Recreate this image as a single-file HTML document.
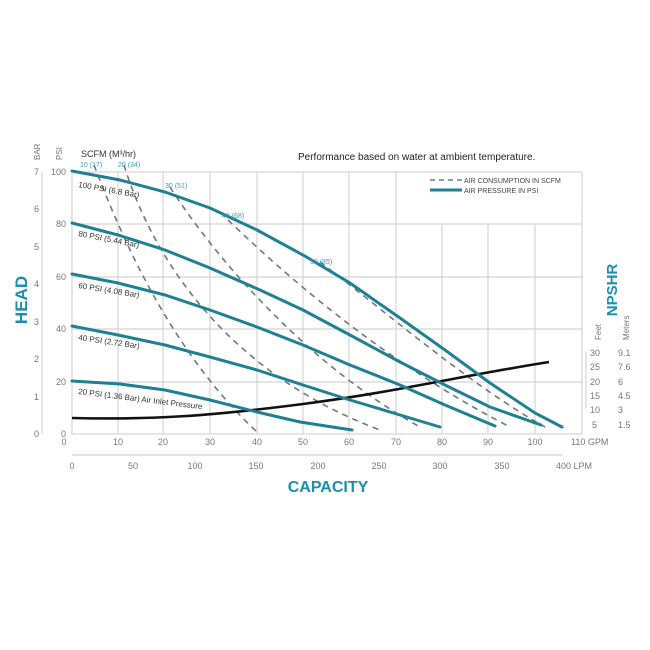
<!DOCTYPE html>
<html><head><meta charset="utf-8"><style>
html,body{margin:0;padding:0;background:#fff;width:650px;height:650px;overflow:hidden}
svg{display:block;font-family:"Liberation Sans",sans-serif}
</style></head><body>
<svg width="650" height="650" viewBox="0 0 650 650">
<g stroke="#d4d4d4" stroke-width="1.2" fill="none">
<rect x="72" y="172" width="510" height="262"/>
<line x1="72" y1="224" x2="582" y2="224"/><line x1="72" y1="277" x2="582" y2="277"/>
<line x1="72" y1="329" x2="582" y2="329"/><line x1="72" y1="382" x2="582" y2="382"/>
<line x1="118" y1="172" x2="118" y2="434"/><line x1="163" y1="172" x2="163" y2="434"/>
<line x1="210" y1="172" x2="210" y2="434"/><line x1="257" y1="172" x2="257" y2="434"/>
<line x1="303" y1="172" x2="303" y2="434"/><line x1="349" y1="172" x2="349" y2="434"/>
<line x1="396" y1="172" x2="396" y2="434"/><line x1="442" y1="225" x2="442" y2="434"/>
<line x1="488" y1="225" x2="488" y2="434"/><line x1="535" y1="225" x2="535" y2="434"/>
<line x1="72" y1="455" x2="563" y2="455"/>
<line x1="42" y1="172" x2="42" y2="434"/>
<line x1="586" y1="352" x2="586" y2="408"/>
</g>
<rect x="424" y="172" width="158" height="40" fill="#fff"/>
<path d="M424 172H582V212" stroke="#d4d4d4" fill="none"/>
<!-- dashed -->
<g stroke="#707880" stroke-width="1.6" stroke-dasharray="6,5" fill="none">
<path d="M94 165 C130 260 180 360 258 433"/>
<path d="M124 165 C150 250 220 370 380 430"/>
<path d="M170 187 C210 250 300 360 420 427"/>
<path d="M228 220 C280 270 380 360 510 427"/>
<path d="M320 262 C390 315 470 385 545 427"/>
</g>
<!-- NPSHR -->
<path d="M72 418 C150 420 210 416 303 404 S460 376 549 362" stroke="#111" stroke-width="2.6" fill="none"/>
<!-- pressure curves -->
<g stroke="#1f7f95" stroke-width="3" fill="none" stroke-linecap="round">
<polyline points="72,171 120,180 165,192 210,208 257,230 303,255 350,283 400,318 445,350 490,383 535,413 562,427"/>
<polyline points="72,223 118,235 165,250 210,268 260,290 303,310 350,335 400,362 445,385 490,407 541,425"/>
<polyline points="72,274 118,283 165,295 210,310 257,327 303,345 350,365 400,385 445,405 495,426"/>
<polyline points="72,326 118,335 165,345 210,357 257,370 303,385 350,400 400,415 440,427"/>
<polyline points="72,381 120,384 165,390 210,400 257,412 300,422 352,430"/>
</g>
<!-- curve labels -->
<g font-size="8" fill="#333">
<text x="78" y="187" transform="rotate(10 78 187)">100 PSI (6.8 Bar)</text>
<text x="78" y="236" transform="rotate(11 78 236)">80 PSI (5.44 Bar)</text>
<text x="78" y="288" transform="rotate(9 78 288)">60 PSI (4.08 Bar)</text>
<text x="78" y="340" transform="rotate(8 78 340)">40 PSI (2.72 Bar)</text>
<text x="78" y="394" transform="rotate(7 78 394)">20 PSI (1.36 Bar) Air Inlet Pressure</text>
</g>
<g font-size="7" fill="#3a9ab5">
<text x="80" y="167">10 (17)</text><text x="118" y="167">20 (34)</text>
<text x="165" y="188">30 (51)</text><text x="222" y="218">40 (68)</text><text x="310" y="264">50 (85)</text>
</g>
<text x="81" y="157" font-size="9" fill="#333">SCFM (M³/hr)</text>
<text x="298" y="160" font-size="10" fill="#222">Performance based on water at ambient temperature.</text>
<line x1="430" y1="180" x2="462" y2="180" stroke="#707880" stroke-width="1.5" stroke-dasharray="5,4"/>
<line x1="430" y1="190" x2="462" y2="190" stroke="#1f7f95" stroke-width="3"/>
<text x="464" y="183" font-size="7" fill="#444">AIR CONSUMPTION IN SCFM</text>
<text x="464" y="193" font-size="7" fill="#444">AIR PRESSURE IN PSI</text>
<!-- left axes -->
<g font-size="9" fill="#777" text-anchor="end">
<text x="66" y="175">100</text><text x="66" y="227">80</text><text x="66" y="280">60</text><text x="66" y="332">40</text><text x="66" y="385">20</text><text x="66" y="437">0</text>
<text x="39" y="175">7</text><text x="39" y="212">6</text><text x="39" y="250">5</text><text x="39" y="287">4</text><text x="39" y="325">3</text><text x="39" y="362">2</text><text x="39" y="400">1</text><text x="39" y="437">0</text>
</g>
<text transform="translate(40 160) rotate(-90)" font-size="8" fill="#777">BAR</text>
<text transform="translate(62 160) rotate(-90)" font-size="8" fill="#777">PSI</text>
<text transform="translate(27 300) rotate(-90)" font-size="17" font-weight="bold" fill="#1a8fb0" text-anchor="middle">HEAD</text>
<!-- bottom -->
<g font-size="9" fill="#777" text-anchor="middle">
<text x="64" y="445">0</text><text x="118" y="445">10</text><text x="163" y="445">20</text><text x="210" y="445">30</text><text x="257" y="445">40</text><text x="303" y="445">50</text><text x="349" y="445">60</text><text x="396" y="445">70</text><text x="442" y="445">80</text><text x="488" y="445">90</text><text x="535" y="445">100</text>
<text x="72" y="469">0</text><text x="133" y="469">50</text><text x="195" y="469">100</text><text x="256" y="469">150</text><text x="318" y="469">200</text><text x="379" y="469">250</text><text x="440" y="469">300</text><text x="502" y="469">350</text>
</g>
<text x="571" y="445" font-size="9" fill="#777">110 GPM</text>
<text x="556" y="469" font-size="9" fill="#777">400 LPM</text>
<text x="328" y="492" font-size="16" font-weight="bold" fill="#1a8fb0" text-anchor="middle">CAPACITY</text>
<!-- right -->
<text transform="translate(617 290) rotate(-90)" font-size="15" font-weight="bold" fill="#1a8fb0" text-anchor="middle">NPSHR</text>
<text transform="translate(601 340) rotate(-90)" font-size="8" fill="#777">Feet</text>
<text transform="translate(629 340) rotate(-90)" font-size="8" fill="#777">Meters</text>
<g font-size="9" fill="#777">
<text x="590" y="356">30</text><text x="590" y="370">25</text><text x="590" y="385">20</text><text x="590" y="399">15</text><text x="590" y="413">10</text><text x="592" y="428">5</text>
<text x="618" y="356">9.1</text><text x="618" y="370">7.6</text><text x="618" y="385">6</text><text x="618" y="399">4.5</text><text x="618" y="413">3</text><text x="618" y="428">1.5</text>
</g>
</svg>
</body></html>
